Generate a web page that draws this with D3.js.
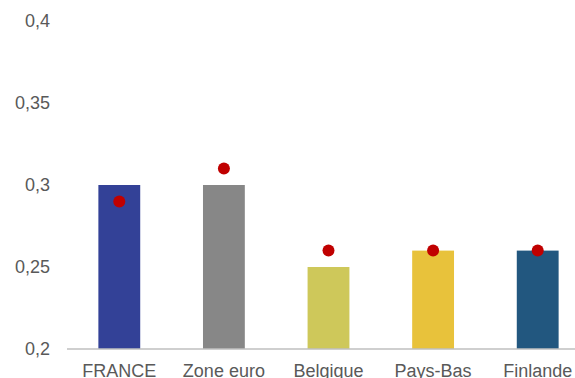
<!DOCTYPE html>
<html><head><meta charset="utf-8">
<script src="https://cdn.jsdelivr.net/npm/d3@7"></script>
<style>body{margin:0;background:#fff}svg{display:block}</style>
</head><body>
<svg id="c" width="575" height="378"></svg>
<script>
const categories = ["FRANCE", "Zone euro", "Belgique", "Pays-Bas", "Finlande"];
const barValues = [0.30, 0.30, 0.25, 0.26, 0.26];
const dotValues = [0.29, 0.31, 0.26, 0.26, 0.26];
const barColors = ["#334197", "#878787", "#CEC85A", "#E8C23B", "#22577F"];
const yTicks = [0.2, 0.25, 0.3, 0.35, 0.4];

const svg = d3.select("#c");
const font = "'Liberation Sans', Arial, sans-serif";
const x = d3.scaleBand().domain(categories).range([67, 590]).paddingInner(0.6).paddingOuter(0.3);
const y = d3.scaleLinear().domain([0.2, 0.4]).range([349, 21]);

svg.selectAll("rect.bar").data(categories).enter().append("rect")
  .attr("x", d => x(d)).attr("width", x.bandwidth())
  .attr("y", (d, i) => y(barValues[i])).attr("height", (d, i) => y(0.2) - y(barValues[i]))
  .attr("fill", (d, i) => barColors[i]);

const yAxis = svg.append("g").attr("transform", "translate(50,0)")
  .call(d3.axisLeft(y).tickValues(yTicks).tickSize(0).tickPadding(0)
    .tickFormat(d => String(d).replace(".", ",")));
yAxis.select(".domain").remove();
yAxis.selectAll("text").attr("fill", "#595959").style("font-family", font).style("font-size", "18px");

const xAxis = svg.append("g").attr("transform", "translate(0,349)")
  .call(d3.axisBottom(x).tickSize(0).tickPadding(15));
xAxis.select(".domain").attr("stroke", "#BFBFBF").attr("stroke-width", 1.5)
  .attr("d", "M67,0H575");
xAxis.selectAll("text").attr("fill", "#595959").style("font-family", font).style("font-size", "18px");

svg.selectAll("circle.dot").data(categories).enter().append("circle")
  .attr("cx", d => x(d) + x.bandwidth() / 2)
  .attr("cy", (d, i) => y(dotValues[i])).attr("r", 6)
  .attr("fill", "#C00000");
</script>
</body></html>
